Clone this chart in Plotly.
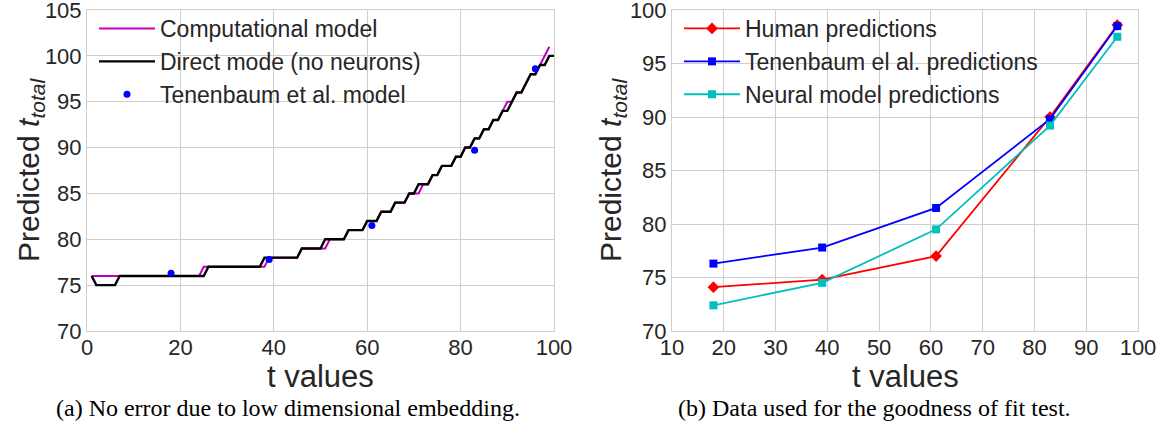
import plotly.graph_objects as go

# ---------------- data: panel (a) ----------------
t_black = list(range(1, 101))
direct_mode = [76, 75, 75, 75, 75, 75, 76, 76, 76, 76,
               76, 76, 76, 76, 76, 76, 76, 76, 76, 76,
               76, 76, 76, 76, 76, 77, 77, 77, 77, 77,
               77, 77, 77, 77, 77, 77, 77, 78, 78, 78,
               78, 78, 78, 78, 78, 79, 79, 79, 79, 79,
               80, 80, 80, 80, 80, 81, 81, 81, 81, 82,
               82, 82, 83, 83, 83, 84, 84, 84, 85, 85,
               86, 86, 86, 87, 87, 88, 88, 88, 89, 89,
               90, 90, 91, 91, 92, 92, 93, 93, 94, 94,
               95, 96, 96, 97, 98, 98, 99, 99, 100, 100]

t_magenta = list(range(1, 100))
computational = [76, 76, 76, 76, 76, 76, 76, 76, 76, 76,
                 76, 76, 76, 76, 76, 76, 76, 76, 76, 76,
                 76, 76, 76, 76, 77, 77, 77, 77, 77, 77,
                 77, 77, 77, 77, 77, 77, 77, 77, 78, 78,
                 78, 78, 78, 78, 78, 79, 79, 79, 79, 79,
                 79, 80, 80, 80, 80, 81, 81, 81, 81, 82,
                 82, 82, 83, 83, 83, 84, 84, 84, 85, 85,
                 85, 86, 86, 87, 87, 88, 88, 88, 89, 89,
                 90, 90, 91, 91, 92, 92, 93, 93, 94, 95,
                 95, 96, 96, 97, 98, 98, 99, 100, 101]

t_points = [18, 39, 61, 83, 96]
tenenbaum_model = [76.3, 77.8, 81.5, 89.7, 98.6]

# ---------------- data: panel (b) ----------------
human_pred = [74.1, 74.8, 77.0, 90.0, 98.6]
tenenbaum_pred = [76.3, 77.8, 81.5, 89.8, 98.5]
neural_pred = [72.4, 74.5, 79.5, 89.2, 97.5]

left_xticks = [0, 20, 40, 60, 80, 100]
right_xticks = [10, 20, 30, 40, 50, 60, 70, 80, 90, 100]
left_yticks = [70, 75, 80, 85, 90, 95, 100, 105]
right_yticks = [70, 75, 80, 85, 90, 95, 100]

W, H = 1168, 444
FONT = "Liberation Sans, Arial, Helvetica, sans-serif"
SERIF = "Liberation Serif, Times New Roman, serif"
TXT = "#262626"
GRID = "#cfcfcf"

fig = go.Figure()

fig.add_trace(go.Scatter(x=t_magenta, y=computational, mode="lines",
                         line=dict(color="#bf00bf", width=2),
                         name="Computational model", legendgroup="a1",
                         xaxis="x", yaxis="y", legend="legend"))
fig.add_trace(go.Scatter(x=t_black, y=direct_mode, mode="lines",
                         line=dict(color="black", width=2.4),
                         name="Direct mode (no neurons)", legendgroup="a2",
                         xaxis="x", yaxis="y", legend="legend"))
fig.add_trace(go.Scatter(x=t_points, y=tenenbaum_model, mode="markers",
                         marker=dict(color="#0000ff", size=7),
                         name="Tenenbaum et al. model", legendgroup="a3",
                         xaxis="x", yaxis="y", legend="legend"))

fig.add_trace(go.Scatter(x=t_points, y=human_pred, mode="lines+markers",
                         line=dict(color="#ff0000", width=1.8),
                         marker=dict(symbol="diamond", size=9, color="#ff0000"),
                         name="Human predictions", legendgroup="b1",
                         xaxis="x2", yaxis="y2", legend="legend2"))
fig.add_trace(go.Scatter(x=t_points, y=tenenbaum_pred, mode="lines+markers",
                         line=dict(color="#0000ff", width=1.8),
                         marker=dict(symbol="square", size=8, color="#0000ff"),
                         name="Tenenbaum el al. predictions", legendgroup="b2",
                         xaxis="x2", yaxis="y2", legend="legend2"))
fig.add_trace(go.Scatter(x=t_points, y=neural_pred, mode="lines+markers",
                         line=dict(color="#00bfbf", width=1.8),
                         marker=dict(symbol="square", size=8, color="#00bfbf"),
                         name="Neural model predictions", legendgroup="b3",
                         xaxis="x2", yaxis="y2", legend="legend2"))

ydom = [1 - 331 / H, 1 - 10 / H]
axis_common = dict(showgrid=True, gridcolor=GRID, gridwidth=1,
                   showline=True, linecolor=GRID, linewidth=1, mirror=True,
                   zeroline=False, ticks="", automargin=False,
                   ticklabeloverflow="allow",
                   tickfont=dict(family=FONT, size=22, color=TXT))
xaxis_extra = dict(ticklabelstandoff=-3)

legend_common = dict(xanchor="left", yanchor="top", bgcolor="rgba(0,0,0,0)",
                     tracegroupgap=0, itemwidth=56,
                     font=dict(family=FONT, size=23, color=TXT))

fig.update_layout(
    width=W, height=H,
    margin=dict(l=0, r=0, t=0, b=0),
    paper_bgcolor="white", plot_bgcolor="white",
    xaxis=dict(domain=[87 / W, 554 / W], range=[0, 100], tickvals=left_xticks,
               anchor="y", **axis_common, **xaxis_extra),
    yaxis=dict(domain=ydom, range=[70, 105], tickvals=left_yticks,
               anchor="x", **axis_common),
    xaxis2=dict(domain=[672 / W, 1138 / W], range=[10, 100], tickvals=right_xticks,
                anchor="y2", **axis_common, **xaxis_extra),
    yaxis2=dict(domain=ydom, range=[70, 100], tickvals=right_yticks,
                anchor="x2", **axis_common),
    legend=dict(x=94 / W, y=1 - 7 / H, **legend_common),
    legend2=dict(x=679 / W, y=1 - 7 / H, **legend_common),
    showlegend=True,
)

for xc in ((87 + 554) / 2, (672 + 1138) / 2):
    fig.add_annotation(text="t values", x=xc / W, y=1 - 376 / H,
                       xref="paper", yref="paper", showarrow=False,
                       xanchor="center", yanchor="middle",
                       font=dict(family=FONT, size=31, color=TXT))
for xpx in (30, 612):
    fig.add_annotation(text="Predicted <i>t</i><sub><i>total</i></sub>",
                       x=xpx / W, y=1 - 170 / H, xref="paper", yref="paper",
                       showarrow=False, textangle=-90, xanchor="center", yanchor="middle",
                       font=dict(family=FONT, size=30, color=TXT))
fig.add_annotation(text="(a) No error due to low dimensional embedding.",
                   x=288 / W, y=1 - 408 / H, xref="paper", yref="paper",
                   showarrow=False, xanchor="center", yanchor="middle",
                   font=dict(family=SERIF, size=24, color="black"))
fig.add_annotation(text="(b) Data used for the goodness of fit test.",
                   x=874 / W, y=1 - 408 / H, xref="paper", yref="paper",
                   showarrow=False, xanchor="center", yanchor="middle",
                   font=dict(family=SERIF, size=24, color="black"))

fig.write_html("out.html", config={"displayModeBar": False},
               post_script="document.body.style.margin='0';")
